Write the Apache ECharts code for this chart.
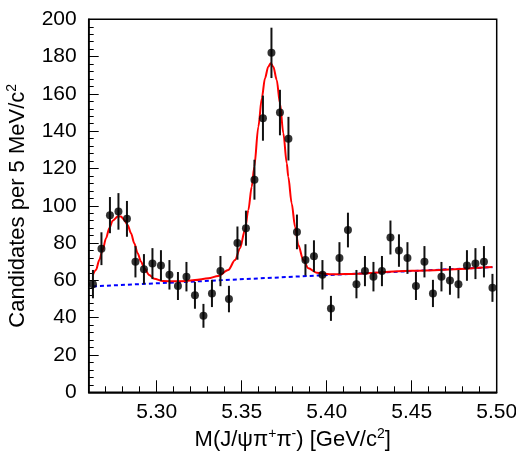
<!DOCTYPE html>
<html>
<head>
<meta charset="utf-8">
<script src="https://cdn.jsdelivr.net/npm/echarts@6/dist/echarts.min.js"></script>
<style>
  html, body { margin: 0; padding: 0; background: #fff; }
  #main { width: 516px; height: 454px; }
</style>
</head>
<body>
<div id="main"></div>
<script>
// bin centres (GeV/c^2), 5 MeV bins
const binCenters = [
  5.2625, 5.2675, 5.2725, 5.2775, 5.2825, 5.2875, 5.2925, 5.2975,
  5.3025, 5.3075, 5.3125, 5.3175, 5.3225, 5.3275, 5.3325, 5.3375,
  5.3425, 5.3475, 5.3525, 5.3575, 5.3625, 5.3675, 5.3725, 5.3775,
  5.3825, 5.3875, 5.3925, 5.3975, 5.4025, 5.4075, 5.4125, 5.4175,
  5.4225, 5.4275, 5.4325, 5.4375, 5.4425, 5.4475, 5.4525, 5.4575,
  5.4625, 5.4675, 5.4725, 5.4775, 5.4825, 5.4875, 5.4925, 5.4975
]
const counts = [
  58, 77, 95, 97, 93, 70, 66, 69, 68, 63, 57, 62, 52, 41, 53, 65,
  50, 80, 88, 114, 147, 182, 150, 136, 86, 71, 73, 63, 45, 72, 87, 58,
  65, 62, 65, 83, 76, 72, 57, 70, 53, 62, 60, 58, 68, 69, 70, 56
]
const errors = [
  7.6, 8.8, 9.7, 9.8, 9.6, 8.4, 8.1, 8.3, 8.2, 7.9, 7.5, 7.9, 7.2, 6.4, 7.3, 8.1,
  7.1, 8.9, 9.4, 10.7, 12.1, 13.5, 12.2, 11.7, 9.3, 8.4, 8.5, 7.9, 6.7, 8.5, 9.3, 7.6,
  8.1, 7.9, 8.1, 9.1, 8.7, 8.5, 7.5, 8.4, 7.3, 7.9, 7.7, 7.6, 8.2, 8.3, 8.4, 7.5
]
// fit curve (red)
const fitMass = [
  5.2624, 5.2643, 5.2662, 5.2682, 5.2702, 5.2721, 5.2741, 5.2771, 5.2790, 5.2809,
  5.2829, 5.2849, 5.2868, 5.2888, 5.2908, 5.2927, 5.2956, 5.2986, 5.3035, 5.3114,
  5.3172, 5.3225, 5.3304, 5.3362, 5.3421, 5.3461, 5.3490, 5.3519, 5.3539, 5.3559,
  5.3574, 5.3598, 5.3618, 5.3637, 5.3656, 5.3671, 5.3686, 5.3706, 5.3725, 5.3745,
  5.3765, 5.3774, 5.3794, 5.3814, 5.3833, 5.3862, 5.3892, 5.3941, 5.4019, 5.4108,
  5.4500, 5.4975
]
const fitValue = [
  62.9, 65.6, 70.9, 76.3, 82.6, 87.9, 92.0, 94.2, 94.2, 92.4,
  89.7, 85.3, 79.9, 74.5, 70.0, 66.5, 62.9, 60.9, 59.7, 59.5,
  59.7, 60.2, 61.1, 62.4, 65.6, 70.9, 77.2, 87.0, 97.7, 110.2,
  121.0, 142.4, 157.6, 168.4, 174.6, 176.4, 174.6, 167.5, 155.0, 138.9,
  122.8, 115.6, 101.3, 88.8, 79.0, 70.9, 66.5, 64.1, 63.3, 63.4,
  65.2, 67.2
]
// background (blue dashed), end points
const bkgMass = [5.2625, 5.4975]
const bkgValue = [56.8, 67.1]
const xTicks = [5.30, 5.35, 5.40, 5.45, 5.50]

const font = '"Liberation Sans", Arial, Helvetica, sans-serif'
const chart = echarts.init(document.getElementById('main'))

const points = binCenters.map((m, i) => [m, counts[i], errors[i]])

// superscript style for axis titles
const titleRich = {
  sup: { fontSize: 14, fontFamily: font, color: '#000', verticalAlign: 'top', lineHeight: 14 }
}

chart.setOption({
  animation: false,
  grid: {
    left: 88.7, right: 19.3, top: 19.3, bottom: 61.7,
    outerBoundsMode: 'none',
    show: true, borderColor: '#000', borderWidth: 1.5, backgroundColor: 'transparent'
  },
  xAxis: [{
    type: 'value', min: 5.26, max: 5.50,
    name: 'M(J/ψπ{sup|+}π{sup|-}) [GeV/c{sup|2}]',
    nameLocation: 'middle', nameGap: 34,
    nameTextStyle: { color: '#000', fontSize: 22, lineHeight: 26, fontFamily: font, rich: titleRich },
    axisLine: { show: true, lineStyle: { color: '#000', width: 1.5 } },
    axisTick: { show: true, inside: true, length: 12, customValues: xTicks, lineStyle: { color: '#000', width: 1 } },
    axisLabel: {
      customValues: xTicks, color: '#000', fontSize: 21, fontFamily: font, margin: 9,
      formatter: v => v.toFixed(2)
    },
    splitLine: { show: false }
  }, {
    // minor ticks every 10 MeV
    type: 'value', min: 5.26, max: 5.50, interval: 0.01, position: 'bottom',
    axisLine: { show: false },
    axisTick: { show: true, inside: true, length: 6, lineStyle: { color: '#000', width: 1 } },
    axisLabel: { show: false },
    splitLine: { show: false }
  }],
  yAxis: {
    type: 'value', min: 0, max: 200, interval: 20,
    name: 'Candidates per 5 MeV/c{sup|2}',
    nameLocation: 'middle', nameGap: 57, nameRotate: 90,
    nameTextStyle: { color: '#000', fontSize: 22, lineHeight: 26, fontFamily: font, rich: titleRich },
    axisLine: { show: true, lineStyle: { color: '#000', width: 1.5 } },
    axisTick: { show: true, inside: true, length: 10, lineStyle: { color: '#000', width: 1 } },
    minorTick: { show: true, splitNumber: 5, length: 5, lineStyle: { color: '#000', width: 1 } },
    axisLabel: { color: '#000', fontSize: 21, fontFamily: font, margin: 12 },
    splitLine: { show: false }
  },
  series: [{
    name: 'background',
    type: 'line',
    data: bkgMass.map((m, i) => [m, bkgValue[i]]),
    symbol: 'none',
    lineStyle: { color: '#0000ff', width: 2, type: [4, 3] },
    z: 2
  }, {
    name: 'fit',
    type: 'line',
    data: fitMass.map((m, i) => [m, fitValue[i]]),
    symbol: 'none',
    smooth: 0.3,
    smoothMonotone: 'x',
    lineStyle: { color: '#ff0000', width: 2 },
    z: 3
  }, {
    name: 'errors',
    type: 'custom',
    data: points,
    renderItem: function (params, api) {
      const x = api.value(0), y = api.value(1), e = api.value(2)
      const lo = api.coord([x, y - e])
      const hi = api.coord([x, y + e])
      return {
        type: 'line',
        shape: { x1: lo[0], y1: lo[1], x2: hi[0], y2: hi[1] },
        style: { stroke: '#111', lineWidth: 2 }
      }
    },
    z: 4
  }, {
    name: 'data',
    type: 'scatter',
    data: points.map(p => [p[0], p[1]]),
    symbol: 'circle',
    symbolSize: 8,
    itemStyle: { color: '#000' },
    z: 5
  }]
})
</script>
</body>
</html>
